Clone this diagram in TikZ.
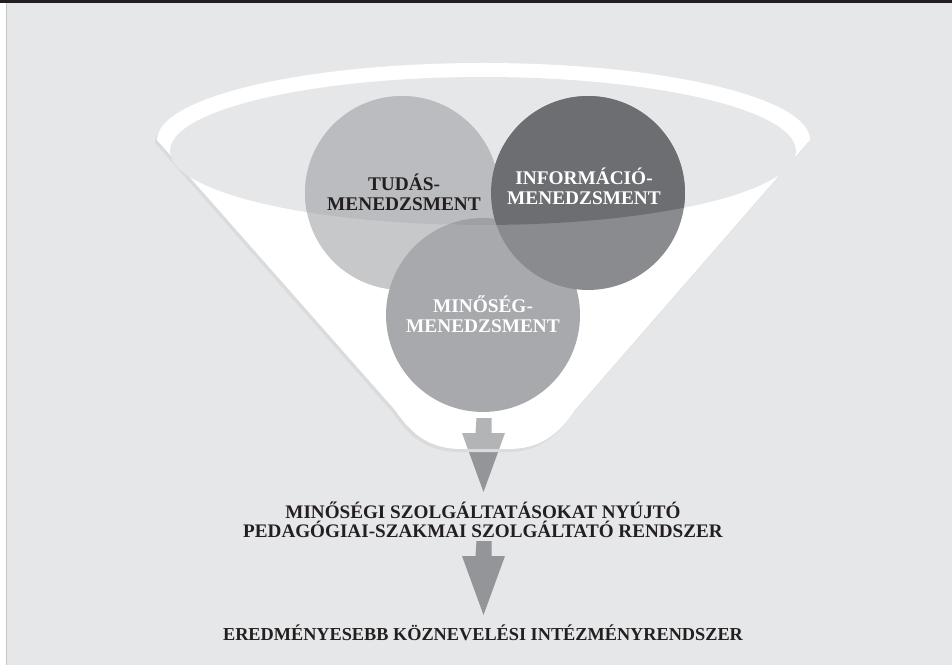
\documentclass[tikz,border=0pt]{standalone}
\usepackage{fontspec}
\setmainfont{Liberation Serif}
\usepackage{tikz}
\usetikzlibrary{positioning}
\definecolor{fond}{HTML}{E6E7E8}
\definecolor{barre}{HTML}{231F20}
\definecolor{tudasgris}{HTML}{C7C8CA}
\definecolor{tudasfonce}{HTML}{BBBCBF}
\definecolor{infogris}{HTML}{8A8B8E}
\definecolor{infofonce}{HTML}{6D6E71}
\definecolor{minogris}{HTML}{A7A9AC}
\definecolor{minofonce}{HTML}{9EA0A3}
\definecolor{flechegris}{HTML}{939598}
\definecolor{flecheclair}{HTML}{B3B4B6}
\definecolor{ombre}{HTML}{DADBDD}
\newcommand{\funnelpath}{(157,140) .. controls (157,97.5) and (303,63) .. (483,63)
  .. controls (663,63) and (810,97.5) .. (810,140) -- (575,410)
  .. controls (558,435) and (540,449) .. (508,449) -- (462,449)
  .. controls (430,449) and (412,435) .. (395,410) -- cycle}
\newcommand{\blockarrow}[1]{#1 ++(-7.5,0) -- ++(15,0) -- ++(0,15) -- ++(13.5,0)
  -- ++(-21.5,59) -- ++(-21.5,-59) -- ++(13.5,0) -- cycle}
\tikzset{
  disc/.style={circle, minimum size=3.88cm, inner sep=0pt},
  tag/.style={font=\bfseries\fontsize{11}{11.5}\selectfont, align=center},
  result/.style={font=\bfseries\fontsize{10.9}{10.9}\selectfont, align=center, text=barre}
}
\begin{document}
\begin{tikzpicture}[x=0.02cm,y=-0.02cm]
		\useasboundingbox (0,0) rectangle (952,665);
		% cadre
		\fill[white] (0,0) rectangle (952,665);
		\fill[fond] (6,3) rectangle (952,665);
		\draw[black!22, line width=0.4pt] (6,3) -- (6,665);
		\fill[barre] (0,0) rectangle (952,3);
		% fleches
		\coordinate (f1) at (484,418);
		\coordinate (f2) at (484,541);
		\fill[flechegris] \blockarrow{(f1)};
		\fill[flechegris] \blockarrow{(f2)};
		% entonnoir
		\fill[ombre, xshift=-0.04cm, yshift=-0.06cm] \funnelpath;
		\fill[white] \funnelpath;
		\begin{scope}
			\clip \funnelpath;
			\fill[flecheclair] \blockarrow{(f1)};
		\end{scope}
		\fill[fond] (483,151) ellipse [x radius=6.26cm, y radius=1.48cm];
		% cercles
		\node[disc, fill=tudasgris] (tudas) at (402,193) {};
		\node[disc, fill=minogris] (minoseg) at (483,315) {};
		\node[disc, fill=infogris] (info) at (588,193) {};
		\begin{scope}
			\clip (483,151) ellipse [x radius=6.26cm, y radius=1.48cm];
			\fill[tudasfonce] (tudas) circle [radius=1.94cm];
			\fill[minofonce] (minoseg) circle [radius=1.94cm];
			\fill[infofonce] (info) circle [radius=1.94cm];
		\end{scope}
		% texte
		\node[tag, text=barre] (tudastxt) at (404,192) {TUDÁS-\\MENEDZSMENT};
		\node[tag, text=white] (infotxt) at (584,186) {INFORMÁCIÓ-\\MENEDZSMENT};
		\node[tag, text=white] (minotxt) at (483,314) {MINŐSÉG-\\MENEDZSMENT};
		\node[result] (szolg) at (483,520) {MINŐSÉGI SZOLGÁLTATÁSOKAT NYÚJTÓ\\PEDAGÓGIAI-SZAKMAI SZOLGÁLTATÓ RENDSZER};
		\node[result, font=\bfseries\fontsize{10.4}{11}\selectfont] (eredmeny) at (483,633) {EREDMÉNYESEBB KÖZNEVELÉSI INTÉZMÉNYRENDSZER};
\end{tikzpicture}
\end{document}
